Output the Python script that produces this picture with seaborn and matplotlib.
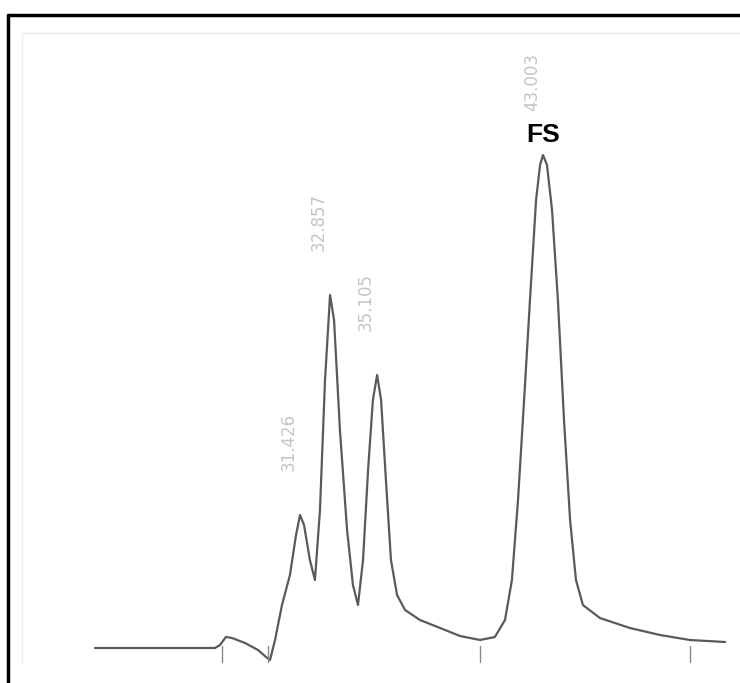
import numpy as np
import pandas as pd
import seaborn as sns
import matplotlib
matplotlib.use("Agg")
import matplotlib.pyplot as plt
from matplotlib.lines import Line2D

sns.set_theme(style="white")
plt.rcParams['font.family'] = ['Liberation Sans', 'DejaVu Sans']

# Retention time (min) and detector signal (arbitrary units)
time = [21.67, 27.38, 27.62, 27.90, 28.19, 28.81, 29.43, 29.81, 30.00, 30.24,
        30.57, 30.95, 31.24, 31.43, 31.62, 31.90, 32.14, 32.38, 32.62, 32.86,
        33.05, 33.33, 33.67, 33.95, 34.19, 34.43, 34.67, 34.90, 35.10, 35.29,
        35.52, 35.76, 36.05, 36.43, 37.14, 38.10, 39.05, 40.00, 40.71, 41.19,
        41.52, 41.81, 42.10, 42.38, 42.67, 42.86, 43.00, 43.19, 43.43, 43.71,
        44.00, 44.29, 44.57, 44.90, 45.71, 47.14, 48.57, 50.00, 51.67]
signal = [0, 0, 3, 11, 10, 5, -2, -9, -12, 8,
          43, 73, 113, 133, 123, 88, 68, 138, 268, 353,
          328, 218, 118, 63, 43, 88, 178, 248, 273, 248,
          168, 88, 53, 38, 28, 20, 12, 8, 11, 28,
          68, 148, 248, 348, 448, 483, 493, 483, 438, 348,
          228, 128, 68, 43, 30, 20, 13, 8, 6]

peak_times = [31.43, 32.86, 35.10, 43.00]
peak_heights = [133, 353, 273, 493]
peak_labels = ["31.426", "32.857", "35.105", "43.003"]
event_marks = [27.71, 29.90, 40.00, 50.00]
main_peak_name = "FS"

df = pd.DataFrame({"time": time, "signal": signal})

fig = plt.figure(figsize=(7.4, 6.83), dpi=100)
ax = fig.add_axes([0, 0, 1, 1])
sns.lineplot(data=df, x="time", y="signal", ax=ax, color="#5a5a5a", linewidth=1.6)

# integration event ticks
for t in event_marks:
    ax.plot([t, t], [-14, 2], color="#8a8a8a", linewidth=1.0)

for t, h, lab in zip(peak_times, peak_heights, peak_labels):
    ax.annotate(lab, xy=(t, h), xytext=(-8, 32), textcoords="offset points",
                rotation=90, ha="center", va="bottom", color="#c4c4c4",
                fontsize=12, family=['DejaVu Sans'])

ax.annotate(main_peak_name, xy=(peak_times[3], peak_heights[3]), xytext=(0, 6),
            textcoords="offset points", ha="center", va="bottom",
            fontsize=19, fontweight="bold", color="black")

ax.set_xlim(17.143, 52.381)
ax.set_ylim(-35, 648)
ax.axis("off")

# scanned frame lines
fig.add_artist(Line2D([8/740, 8/740], [0, 1 - 15/683], transform=fig.transFigure,
                      color="black", linewidth=2.5))
fig.add_artist(Line2D([8/740, 1], [1 - 15/683, 1 - 15/683], transform=fig.transFigure,
                      color="black", linewidth=2.5))
fig.add_artist(Line2D([22/740, 1], [1 - 33/683, 1 - 33/683], transform=fig.transFigure,
                      color="#e6e6e6", linewidth=1.0))
fig.add_artist(Line2D([22/740, 22/740], [0.03, 1 - 33/683], transform=fig.transFigure,
                      color="#eeeeee", linewidth=1.0))

fig.savefig("out.png", dpi=100)
